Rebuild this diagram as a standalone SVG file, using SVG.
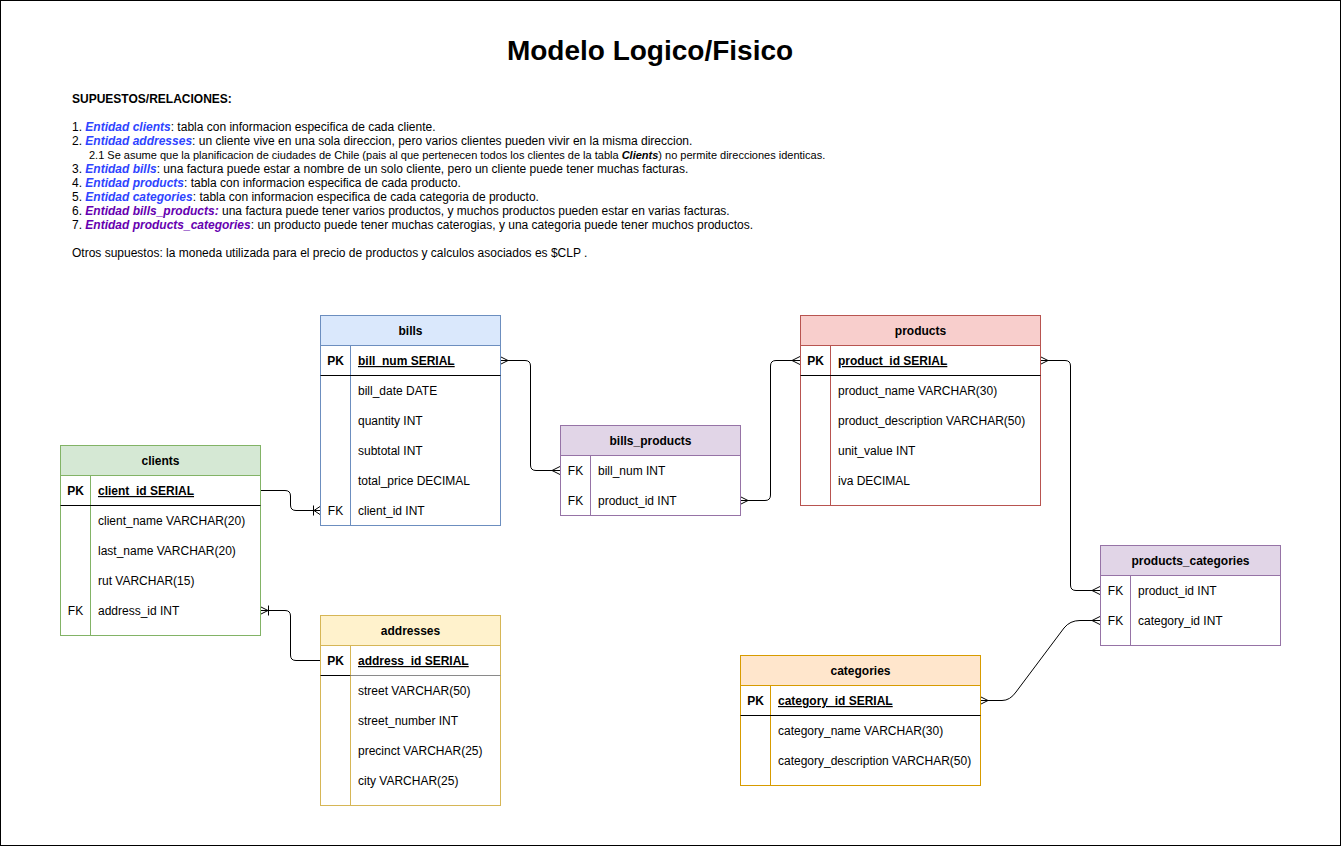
<svg xmlns="http://www.w3.org/2000/svg" width="1342" height="847" viewBox="0 0 1342 847">
<style>
text{font-family:"Liberation Sans",Arial,Helvetica,sans-serif;font-size:12px;fill:#000}
.title{font-size:28px;font-weight:bold}
.b{font-weight:bold}
.hd{font-weight:bold;text-anchor:middle}
.k{text-anchor:middle}
.pk{font-weight:bold;text-decoration:underline}
.blue{fill:#2e44ff;font-weight:bold;font-style:italic}
.purp{fill:#6600b0;font-weight:bold;font-style:italic}
.bi{font-weight:bold;font-style:italic}
.conn{fill:none;stroke:#000;stroke-width:1}
.sep{stroke:#000;stroke-width:1}
</style>
<rect x="0.5" y="0.5" width="1340" height="845" fill="#fff" stroke="#000"/>
<text class="title" x="650" y="60" text-anchor="middle">Modelo Logico/Fisico</text>
<g id="notes">
<text class="b" x="72" y="103">SUPUESTOS/RELACIONES:</text>
<text x="72" y="131">1. <tspan class="blue">Entidad clients</tspan>: tabla con informacion especifica de cada cliente.</text>
<text x="72" y="145">2. <tspan class="blue">Entidad addresses</tspan>: un cliente vive en una sola direccion, pero varios clientes pueden vivir en la misma direccion.</text>
<text x="89" y="159" style="font-size:11px">2.1 Se asume que la planificacion de ciudades de Chile (pais al que pertenecen todos los clientes de la tabla <tspan class="bi">Clients</tspan>) no permite direcciones identicas.</text>
<text x="72" y="173">3. <tspan class="blue">Entidad bills</tspan>: una factura puede estar a nombre de un solo cliente, pero un cliente puede tener muchas facturas.</text>
<text x="72" y="187">4. <tspan class="blue">Entidad products</tspan>: tabla con informacion especifica de cada producto.</text>
<text x="72" y="201">5. <tspan class="blue">Entidad categories</tspan>: tabla con informacion especifica de cada categoria de producto.</text>
<text x="72" y="215">6. <tspan class="purp">Entidad bills_products:</tspan> una factura puede tener varios productos, y muchos productos pueden estar en varias facturas.</text>
<text x="72" y="229">7. <tspan class="purp">Entidad products_categories</tspan>: un producto puede tener muchas caterogias, y una categoria puede tener muchos productos.</text>
<text x="72" y="257">Otros supuestos: la moneda utilizada para el precio de productos y calculos asociados es $CLP .</text>
</g>

<g id="connectors">
<!-- clients.client_id -> bills.client_id -->
<path class="conn" d="M260,490.5 H285 Q290.5,490.5 290.5,496 V505 Q290.5,510.5 296,510.5 H320"/>
<path class="conn" d="M313.5,505.5 V515.5 M314,510.5 L320,506.5 M314,510.5 L320,514.5"/>
<!-- clients.address_id -> addresses.address_id -->
<path class="conn" d="M260,610.5 H285 Q290.5,610.5 290.5,616 V655 Q290.5,660.5 296,660.5 H320"/>
<path class="conn" d="M268.5,605.5 V615.5 M268,610.5 L260,606.5 M268,610.5 L260,614.5"/>
<!-- bills.bill_num -> bills_products.bill_num -->
<path class="conn" d="M500,360.5 H525 Q530.5,360.5 530.5,366 V465 Q530.5,470.5 536,470.5 H560"/>
<path class="conn" d="M508,360.5 L500,356.5 M508,360.5 L500,364.5"/>
<path class="conn" d="M552,470.5 L560,466.5 M552,470.5 L560,474.5"/>
<!-- bills_products.product_id -> products.product_id -->
<path class="conn" d="M740,500.5 H765 Q770.5,500.5 770.5,495 V366 Q770.5,360.5 776,360.5 H800"/>
<path class="conn" d="M748,500.5 L740,496.5 M748,500.5 L740,504.5"/>
<path class="conn" d="M792,360.5 L800,356.5 M792,360.5 L800,364.5"/>
<!-- products.product_id -> products_categories.product_id -->
<path class="conn" d="M1040,360.5 H1065 Q1070.5,360.5 1070.5,366 V585 Q1070.5,590.5 1076,590.5 H1100"/>
<path class="conn" d="M1048,360.5 L1040,356.5 M1048,360.5 L1040,364.5"/>
<path class="conn" d="M1092,590.5 L1100,586.5 M1092,590.5 L1100,594.5"/>
<!-- categories.category_id -> products_categories.category_id -->
<path class="conn" d="M980,700.5 H1002 Q1010,700.5 1016,692 L1064,628 Q1070,620.5 1080,620.5 H1100"/>
<path class="conn" d="M988,700.5 L980,696.5 M988,700.5 L980,704.5"/>
<path class="conn" d="M1092,620.5 L1100,616.5 M1092,620.5 L1100,624.5"/>
</g>

<g id="bills">
<rect x="320.5" y="315.5" width="180" height="210" fill="#fff" stroke="#6c8ebf"/>
<rect x="320.5" y="315.5" width="180" height="30" fill="#dae8fc" stroke="#6c8ebf"/>
<line x1="350.5" y1="345.5" x2="350.5" y2="525.5" stroke="#6c8ebf"/>
<line class="sep" x1="320.5" y1="375.5" x2="500.5" y2="375.5"/>
<text class="hd" x="410.5" y="335">bills</text>
<text class="k b" x="335.5" y="365">PK</text>
<text class="pk" x="358" y="365">bill_num SERIAL</text>
<text x="358" y="395">bill_date DATE</text>
<text x="358" y="425">quantity INT</text>
<text x="358" y="455">subtotal INT</text>
<text x="358" y="485">total_price DECIMAL</text>
<text class="k" x="335.5" y="515">FK</text>
<text x="358" y="515">client_id INT</text>
</g>

<g id="clients">
<rect x="60.5" y="445.5" width="200" height="190" fill="#fff" stroke="#82b366"/>
<rect x="60.5" y="445.5" width="200" height="30" fill="#d5e8d4" stroke="#82b366"/>
<line x1="90.5" y1="475.5" x2="90.5" y2="635.5" stroke="#82b366"/>
<line class="sep" x1="60.5" y1="505.5" x2="260.5" y2="505.5"/>
<text class="hd" x="160.5" y="465">clients</text>
<text class="k b" x="75.5" y="495">PK</text>
<text class="pk" x="98" y="495">client_id SERIAL</text>
<text x="98" y="525">client_name VARCHAR(20)</text>
<text x="98" y="555">last_name VARCHAR(20)</text>
<text x="98" y="585">rut VARCHAR(15)</text>
<text class="k" x="75.5" y="615">FK</text>
<text x="98" y="615">address_id INT</text>
</g>

<g id="addresses">
<rect x="320.5" y="615.5" width="180" height="190" fill="#fff" stroke="#d6b656"/>
<rect x="320.5" y="615.5" width="180" height="30" fill="#fff2cc" stroke="#d6b656"/>
<line x1="350.5" y1="645.5" x2="350.5" y2="805.5" stroke="#d6b656"/>
<line class="sep" x1="320.5" y1="675.5" x2="350.5" y2="675.5"/>
<line x1="350.5" y1="675.5" x2="500.5" y2="675.5" stroke="#8a8a8a"/>
<text class="hd" x="410.5" y="635">addresses</text>
<text class="k b" x="335.5" y="665">PK</text>
<text class="pk" x="358" y="665">address_id SERIAL</text>
<text x="358" y="695">street VARCHAR(50)</text>
<text x="358" y="725">street_number INT</text>
<text x="358" y="755">precinct VARCHAR(25)</text>
<text x="358" y="785">city VARCHAR(25)</text>
</g>

<g id="bills_products">
<rect x="560.5" y="425.5" width="180" height="90" fill="#fff" stroke="#9673a6"/>
<rect x="560.5" y="425.5" width="180" height="30" fill="#e1d5e7" stroke="#9673a6"/>
<line x1="590.5" y1="455.5" x2="590.5" y2="515.5" stroke="#9673a6"/>
<text class="hd" x="650.5" y="445">bills_products</text>
<text class="k" x="575.5" y="475">FK</text>
<text x="598" y="475">bill_num INT</text>
<text class="k" x="575.5" y="505">FK</text>
<text x="598" y="505">product_id INT</text>
</g>

<g id="products">
<rect x="800.5" y="315.5" width="240" height="190" fill="#fff" stroke="#b85450"/>
<rect x="800.5" y="315.5" width="240" height="30" fill="#f8cecc" stroke="#b85450"/>
<line x1="830.5" y1="345.5" x2="830.5" y2="505.5" stroke="#b85450"/>
<line class="sep" x1="800.5" y1="375.5" x2="1040.5" y2="375.5"/>
<text class="hd" x="920.5" y="335">products</text>
<text class="k b" x="815.5" y="365">PK</text>
<text class="pk" x="838" y="365">product_id SERIAL</text>
<text x="838" y="395">product_name VARCHAR(30)</text>
<text x="838" y="425">product_description VARCHAR(50)</text>
<text x="838" y="455">unit_value INT</text>
<text x="838" y="485">iva DECIMAL</text>
</g>

<g id="products_categories">
<rect x="1100.5" y="545.5" width="180" height="100" fill="#fff" stroke="#9673a6"/>
<rect x="1100.5" y="545.5" width="180" height="30" fill="#e1d5e7" stroke="#9673a6"/>
<line x1="1130.5" y1="575.5" x2="1130.5" y2="645.5" stroke="#9673a6"/>
<text class="hd" x="1190.5" y="565">products_categories</text>
<text class="k" x="1115.5" y="595">FK</text>
<text x="1138" y="595">product_id INT</text>
<text class="k" x="1115.5" y="625">FK</text>
<text x="1138" y="625">category_id INT</text>
</g>

<g id="categories">
<rect x="740.5" y="655.5" width="240" height="130" fill="#fff" stroke="#d79b00"/>
<rect x="740.5" y="655.5" width="240" height="30" fill="#ffe6cc" stroke="#d79b00"/>
<line x1="770.5" y1="685.5" x2="770.5" y2="785.5" stroke="#d79b00"/>
<line class="sep" x1="740.5" y1="715.5" x2="980.5" y2="715.5"/>
<text class="hd" x="860.5" y="675">categories</text>
<text class="k b" x="755.5" y="705">PK</text>
<text class="pk" x="778" y="705">category_id SERIAL</text>
<text x="778" y="735">category_name VARCHAR(30)</text>
<text x="778" y="765">category_description VARCHAR(50)</text>
</g>
</svg>
